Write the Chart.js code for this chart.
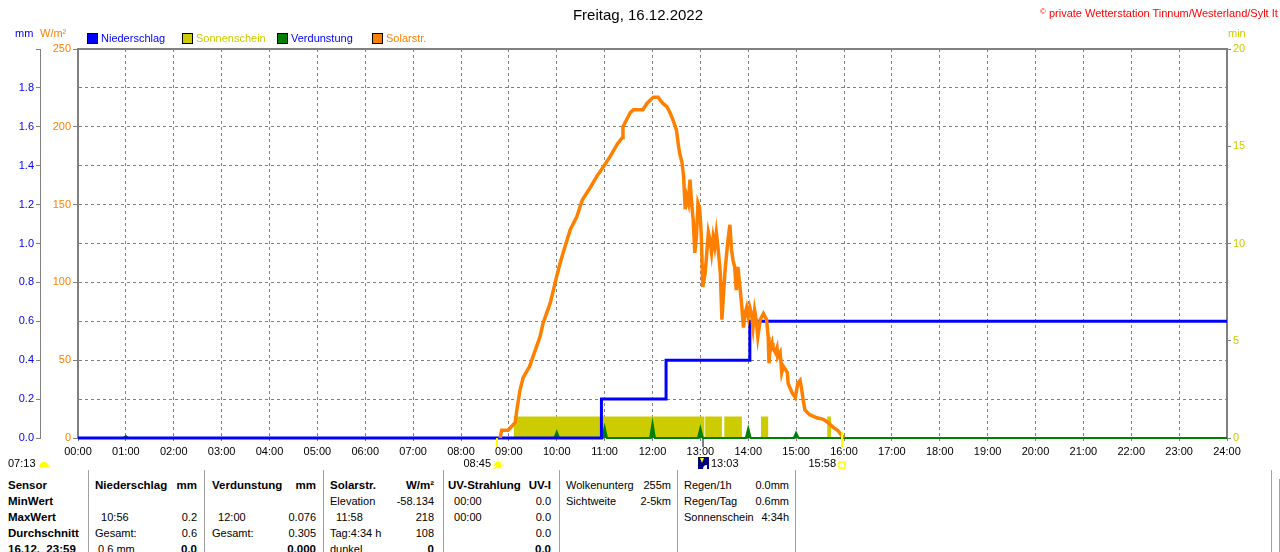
<!DOCTYPE html>
<html>
<head>
<meta charset="utf-8">
<title>Freitag, 16.12.2022</title>
<script src="https://cdn.jsdelivr.net/npm/chart.js"></script>
<style>
    body { margin: 0; width: 1280px; height: 552px; overflow: hidden; background: #fff;
           font-family: "Liberation Sans", Arial, sans-serif; font-size: 11px; }
    .abs { position: absolute; white-space: pre; line-height: 14px; }
    #wrap { position: absolute; left: 0; top: 0; width: 1280px; height: 470px; }
    .box { position: absolute; width: 9px; height: 9px; border: 1px solid #000; top: 33px; }
    .vline { position: absolute; width: 1px; background: #a0a0a0; }
    .row { position: absolute; height: 16px; line-height: 16px; display: flex; justify-content: space-between; white-space: pre; }
    .b { font-weight: bold; font-size: 11.5px; }
</style>
</head>
<body>
<div id="wrap"><canvas id="wx"></canvas></div>

<!-- Kopf: Titel, Copyright, Einheiten, Legende -->
<div class="abs" style="left:0; width:1276px; top:6px; text-align:center; font-size:15px; line-height:17px;">Freitag, 16.12.2022</div>
<div class="abs" style="left:1040px; top:5px; color:#ff0000;"><span style="font-size:8px; vertical-align:3px;">©</span> private Wetterstation Tinnum/Westerland/Sylt It</div>
<div class="abs" style="left:15px; top:26px; color:#0000ff;">mm</div>
<div class="abs" style="left:40px; top:26px; color:#ff8000;">W/m²</div>
<div class="abs" style="left:1228px; top:26px; color:#cccc00;">min</div>
<div id="legend"></div>
<div id="table"></div>

<script>
// ---- Daten (Zeit in Minuten seit 00:00) ----
const hourLabels = ['00:00','01:00','02:00','03:00','04:00','05:00','06:00','07:00','08:00','09:00','10:00','11:00','12:00',
                    '13:00','14:00','15:00','16:00','17:00','18:00','19:00','20:00','21:00','22:00','23:00','24:00'];

// Solarstrahlung W/m²
const solarTime = [529, 531, 539, 548, 550, 554, 558, 566, 570, 579, 583, 592, 600, 604, 608, 617, 625, 632, 642, 650,
                   658, 667, 676, 682, 683, 692, 696, 708, 713, 721, 727, 733, 738, 742,
                   746, 750, 752, 754, 757, 759, 760, 761, 763, 765, 767, 769, 771, 773, 775, 777, 779, 781, 783, 786,
                   788, 790, 792, 794, 796, 798, 800, 802, 805, 807, 809, 811, 813, 815, 817, 819, 821, 823, 825, 827,
                   830, 832, 834, 836, 838, 840, 842, 844, 846, 848, 850, 852, 855, 859, 863, 865,
                   866, 867, 870, 871, 874, 876, 877, 880, 882, 884, 889, 890, 895, 899, 902, 905, 907, 909, 911, 917,
                   926, 934, 940, 946, 952, 958, 960];
const solarValue = [0, 5, 5, 10, 18, 31, 39, 46, 52, 65, 74, 87, 104, 112, 119, 134, 142, 153, 161, 168,
                    174, 181, 189, 193, 200, 209, 211, 211, 215, 219, 219, 215, 213, 209,
                    204, 198, 190, 183, 177, 168, 157, 147, 155, 151, 166, 151, 140, 119, 129, 151, 148, 132, 97, 106,
                    119, 132, 127, 119, 129, 123, 132, 123, 106, 76, 93, 108, 119, 129, 137, 121, 114, 110, 95, 110,
                    95, 84, 71, 80, 84, 78, 84, 80, 71, 82, 76, 65, 76, 80, 76, 65,
                    48, 55, 61, 58, 55, 58, 52, 55, 42, 46, 42, 35, 29, 26, 35, 37, 31, 24, 18, 15,
                    13, 12, 10, 7, 5, 1, 0];

// Niederschlag mm (Summe, Stufen)
const rainTime = [656, 737, 842];
const rainValue = [0.2, 0.4, 0.6];

// Verdunstung mm (stündlich)
const evapTime = [60, 600, 660, 720, 780, 840, 900];
const evapValue = [0.01, 0.032, 0.055, 0.076, 0.05, 0.05, 0.027];

// Sonnenschein min
const sunOn = [546, 786, 810, 856, 939];
const sunOff = [785, 807, 832, 865, 944];
const sunLevel = [1.1, 1.1, 1.1, 1.1, 1.1];

const moonRise = '07:13', sunRise = '08:45', moonPhase = '13:03', sunSet = '15:58';

const legendItems = [
    ['Niederschlag', '#0000ff', '#0000ff'],
    ['Sonnenschein', '#cccc00', '#cccc00'],
    ['Verdunstung', '#008000', '#0000ff'],
    ['Solarstr.', '#ff8000', '#ff8000']
];

// Tabelle unten
const tblSensor = [['Sensor', ''], ['MinWert', ''], ['MaxWert', ''], ['Durchschnitt', ''], ['16.12.  23:59', '']];
const tblRain   = [['Niederschlag', 'mm'], ['', ''], ['  10:56', '0.2'], ['Gesamt:', '0.6'], [' 0.6 mm', '0.0']];
const tblEvap   = [['Verdunstung', 'mm'], ['', ''], ['  12:00', '0.076'], ['Gesamt:', '0.305'], ['', '0.000']];
const tblSolar  = [['Solarstr.', 'W/m²'], ['Elevation', '-58.134'], ['  11:58', '218'], ['Tag:4:34 h', '108'], ['dunkel', '0']];
const tblUV     = [['UV-Strahlung', 'UV-I'], ['  00:00', '0.0'], ['  00:00', '0.0'], ['', '0.0'], ['', '0.0']];
const tblCloud  = [['Wolkenunterg', '255m'], ['Sichtweite', '2-5km']];
const tblSum    = [['Regen/1h', '0.0mm'], ['Regen/Tag', '0.6mm'], ['Sonnenschein', '4:34h']];

// ---- Hilfen ----
function toMin(s) {
    const p = s.split(':');
    return +p[0] * 60 + +p[1];
}

const solarPts = solarTime.map((t, i) => ({x: t, y: solarValue[i]}));

const rainPts = [{x: 0, y: 0}];
rainTime.forEach((t, i) => {
    rainPts.push({x: t, y: rainPts[rainPts.length - 1].y});
    rainPts.push({x: t, y: rainValue[i]});
});
rainPts.push({x: 1440, y: rainValue[rainValue.length - 1]});

const evapPts = [{x: 0, y: 0}];
evapTime.forEach((t, i) => {
    evapPts.push({x: t - 3, y: 0}, {x: t, y: evapValue[i]}, {x: t + 3, y: 0});
});
evapPts.push({x: 1440, y: 0});

const sunPts = [];
sunOn.forEach((t, i) => {
    sunPts.push({x: t, y: 0}, {x: t, y: sunLevel[i]}, {x: sunOff[i], y: sunLevel[i]}, {x: sunOff[i], y: 0});
});

// ---- Legende ----
const lg = document.getElementById('legend');
legendItems.forEach((it, i) => {
    const x = 87 + i * 95;
    lg.insertAdjacentHTML('beforeend',
        '<div class="box" style="left:' + x + 'px; background:' + it[1] + ';"></div>' +
        '<div class="abs" style="left:' + (x + 14) + 'px; top:31px; color:' + it[2] + ';">' + it[0] + '</div>');
});

// ---- Tabelle ----
const tb = document.getElementById('table');
[88, 204, 323, 443, 559, 677, 795, 1271].forEach(x => {
    tb.insertAdjacentHTML('beforeend', '<div class="vline" style="left:' + x + 'px; top:470px; height:82px;"></div>');
});
tb.insertAdjacentHTML('beforeend', '<div class="vline" style="left:1279px; top:479px; height:73px;"></div>');

function addCol(rows, left, right, boldHead, boldLast, allBold) {
    rows.forEach((r, i) => {
        const bl = allBold || (boldHead && i === 0);
        const br = allBold || (boldHead && i === 0) || (boldLast && i === 4);
        tb.insertAdjacentHTML('beforeend',
            '<div class="row" style="left:' + left + 'px; width:' + (right - left) + 'px; top:' + (477 + i * 16) + 'px;">' +
            '<span class="' + (bl ? 'b' : '') + '">' + r[0] + '</span>' +
            '<span class="' + (br ? 'b' : '') + '">' + r[1] + '</span></div>');
    });
}
addCol(tblSensor, 8, 88, false, false, true);
addCol(tblRain, 95, 197, true, true, false);
addCol(tblEvap, 212, 316, true, true, false);
addCol(tblSolar, 330, 434, true, true, false);
addCol(tblUV, 448, 551, true, true, false);
addCol(tblCloud, 566, 671, false, false, false);
addCol(tblSum, 684, 789, false, false, false);

// ---- Rahmen + Markierungen ----
const marks = {
    id: 'marks',
    beforeDatasetsDraw(chart) {
        const {ctx, chartArea: a} = chart;
        ctx.save();
        ctx.strokeStyle = '#808080';
        ctx.lineWidth = 2;
        ctx.beginPath();
        ctx.moveTo(a.left - 1, a.top);
        ctx.lineTo(a.right + 1, a.top);
        ctx.stroke();
        ctx.restore();
    },
    afterDraw(chart) {
        const {ctx, chartArea: a, scales: {x}} = chart;
        const px = s => Math.round(x.getPixelForValue(toMin(s)));
        const xr = px(sunRise), xs = px(sunSet), xm = px(moonPhase);
        const ty = a.bottom + 26;
        ctx.save();
        ctx.lineWidth = 2;
        ctx.strokeStyle = '#ffff00';
        ctx.beginPath();
        ctx.moveTo(xr, a.bottom); ctx.lineTo(xr, a.bottom + 9);
        ctx.moveTo(xs, a.bottom - 6); ctx.lineTo(xs, a.bottom + 9);
        ctx.stroke();
        ctx.strokeStyle = '#808080';
        ctx.beginPath();
        ctx.moveTo(xm, a.bottom + 1); ctx.lineTo(xm, a.bottom + 9);
        ctx.stroke();

        ctx.font = '11px "Liberation Sans", Arial, sans-serif';
        ctx.fillStyle = '#000';
        ctx.textBaseline = 'middle';
        ctx.textAlign = 'left';
        ctx.fillText(moonRise, 8, ty);
        ctx.fillText(moonPhase, xm + 8, ty);
        ctx.textAlign = 'right';
        ctx.fillText(sunRise, xr - 6, ty);
        ctx.fillText(sunSet, xs - 6, ty);

        // Mondaufgang
        ctx.fillStyle = '#ffff00';
        ctx.beginPath();
        ctx.arc(44, ty + 3, 5, Math.PI, 0);
        ctx.fill();
        // Sonnenaufgang
        ctx.beginPath();
        ctx.arc(xr + 1, ty + 1, 3.5, 0, Math.PI * 2);
        ctx.fill();
        ctx.strokeStyle = '#ffff00';
        ctx.lineWidth = 1;
        ctx.beginPath();
        for (let k = 0; k < 8; k++) {
            const an = k * Math.PI / 4;
            ctx.moveTo(xr + 1 + Math.cos(an) * 4.5, ty + 1 + Math.sin(an) * 4.5);
            ctx.lineTo(xr + 1 + Math.cos(an) * 6, ty + 1 + Math.sin(an) * 6);
        }
        ctx.stroke();
        // Sonnenuntergang
        ctx.lineWidth = 1.5;
        ctx.strokeRect(xs - 3, ty - 2, 6, 6);
        // Mondphase
        ctx.fillStyle = '#000080';
        ctx.fillRect(xm - 5, ty - 7, 11, 12);
        ctx.fillStyle = '#ffffff';
        ctx.beginPath();
        ctx.arc(xm + 4, ty + 5, 4, Math.PI, Math.PI * 1.5);
        ctx.lineTo(xm + 4, ty + 5);
        ctx.fill();
        ctx.fillStyle = '#ffff00';
        ctx.beginPath();
        ctx.moveTo(xm - 3, ty - 6); ctx.lineTo(xm + 1, ty - 6); ctx.lineTo(xm - 1, ty - 1);
        ctx.fill();
        ctx.restore();
    }
};

Chart.defaults.font.family = '"Liberation Sans", Arial, sans-serif';
Chart.defaults.font.size = 11;

const chart = new Chart(document.getElementById('wx'), {
    type: 'line',
    data: {
        datasets: [
            { label: 'Solarstr.', data: solarPts, yAxisID: 'yW', borderColor: '#ff8000', borderWidth: 3.5,
              pointRadius: 0, fill: false, tension: 0, order: 0, clip: 4 },
            { label: 'Niederschlag', data: rainPts, yAxisID: 'yMM', borderColor: '#0000ff', borderWidth: 3,
              pointRadius: 0, fill: false, tension: 0, order: 1, clip: 4 },
            { label: 'Verdunstung', data: evapPts, yAxisID: 'yMM', borderColor: '#008000', backgroundColor: '#008000',
              borderWidth: 2, pointRadius: 0, fill: 'origin', tension: 0, order: 2, clip: 4 },
            { label: 'Sonnenschein', data: sunPts, yAxisID: 'yMin', borderColor: '#cccc00', backgroundColor: '#cccc00',
              borderWidth: 0, pointRadius: 0, fill: 'origin', tension: 0, order: 3 }
        ]
    },
    options: {
        responsive: true,
        maintainAspectRatio: false,
        animation: false,
        layout: { padding: { top: 49, left: 0, right: 0, bottom: 0 } },
        plugins: { legend: { display: false }, title: { display: false }, tooltip: { enabled: false } },
        scales: {
            x: {
                type: 'linear', position: 'bottom', min: 0, max: 1440,
                afterFit: s => { s.height = 32; },
                ticks: { stepSize: 60, color: '#000', padding: 2, maxRotation: 0, autoSkip: false,
                         callback: v => hourLabels[v / 60] },
                grid: { color: '#808080', lineWidth: 1, tickLength: 5, tickColor: '#808080', tickBorderDash: [3, 3] },
                border: { display: false, dash: [3, 3] }
            },
            yMM: {
                position: 'left', weight: 1, min: 0, max: 2,
                afterFit: s => { s.width = 40; },
                ticks: { stepSize: 0.2, color: '#0000ff', padding: 2,
                         callback: v => (v >= 1.99 ? '' : v.toFixed(1)) },
                grid: { color: '#808080', lineWidth: 1, tickLength: 4, tickColor: '#808080' },
                border: { display: true, color: '#808080', width: 1, dash: [3, 3] }
            },
            yW: {
                position: 'left', weight: 0, min: 0, max: 250,
                afterFit: s => { s.width = 38; },
                ticks: { stepSize: 50, color: '#ff8000', padding: 2 },
                grid: { drawOnChartArea: false, tickLength: 5, tickColor: '#808080' },
                border: { display: true, color: '#808080', width: 2 }
            },
            yMin: {
                position: 'right', min: 0, max: 20,
                afterFit: s => { s.width = 53; },
                ticks: { stepSize: 5, color: '#cccc00', padding: 2 },
                grid: { drawOnChartArea: false, tickLength: 4, tickColor: '#808080' },
                border: { display: true, color: '#808080', width: 2 }
            }
        }
    },
    plugins: [marks]
});
</script>
</body>
</html>
